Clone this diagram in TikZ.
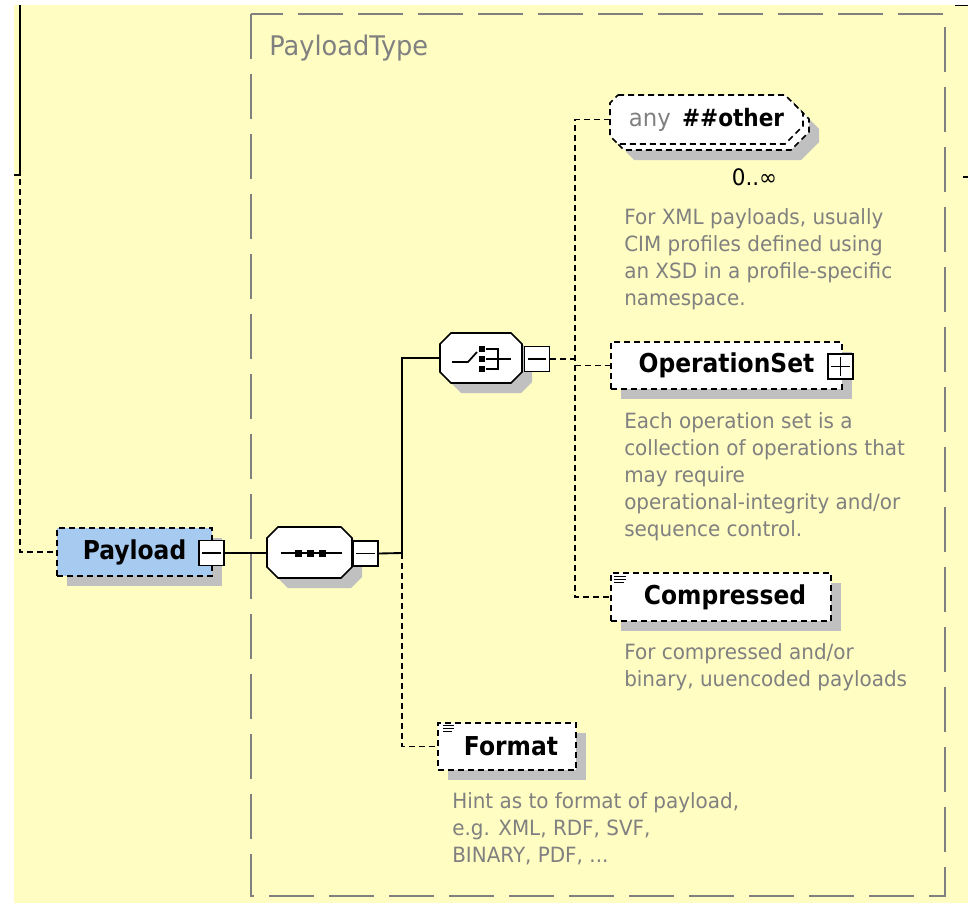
\documentclass[tikz,border=0pt]{standalone}
\usepackage{fontspec}
\setmainfont{DejaVu Sans}[FakeStretch=0.95]
\newfontfamily\headfam{DejaVu Sans}[FakeStretch=0.9]
\usetikzlibrary{calc}

\definecolor{bgyellow}{RGB}{255,253,194}
\definecolor{elemblue}{RGB}{166,202,240}
\definecolor{shgray}{RGB}{192,192,192}
\definecolor{txtgray}{RGB}{128,128,128}
\definecolor{framegray}{RGB}{128,128,128}

% octagon outline: options, centre x, centre y, half width, half height, left chamfer, right chamfer
\newcommand\xsoctagon[7]{%
  \path[#1] ({#2-#4+#6},{#3-#5}) -- ({#2+#4-#7},{#3-#5}) -- ({#2+#4},{#3-#5+#7})
    -- ({#2+#4},{#3+#5-#7}) -- ({#2+#4-#7},{#3+#5}) -- ({#2-#4+#6},{#3+#5})
    -- ({#2-#4},{#3+#5-#6}) -- ({#2-#4},{#3-#5+#6}) -- cycle;}

\tikzset{
  conn/.style={line width=1.4pt, black},
  optconn/.style={conn, dash pattern=on 4.5pt off 3pt},
  titlefont/.style={font=\headfam\bfseries\fontsize{19.5pt}{22pt}\selectfont},
  shadowbox/.style={fill=shgray},
  elembox/.style={rectangle, draw, line width=1.3pt, dash pattern=on 4.5pt off 3pt,
    fill=white, inner sep=0pt, titlefont},
  hold/.style={rectangle, inner sep=0pt},
  compline/.style={draw, line width=1.3pt, fill=white},
  optline/.style={draw, line width=1.3pt, dash pattern=on 4.5pt off 3pt, fill=white},
  pmbox/.style={rectangle, draw, line width=1.2pt, fill=white, minimum size=19pt, inner sep=0pt},
  minusbox/.style={pmbox, path picture={
    \draw[line width=1.2pt] ([xshift=2.5pt]path picture bounding box.west) -- ([xshift=-2.5pt]path picture bounding box.east);}},
  plusbox/.style={pmbox, path picture={
    \draw[line width=1.2pt] ([xshift=2.5pt]path picture bounding box.west) -- ([xshift=-2.5pt]path picture bounding box.east);
    \draw[line width=1.2pt] ([yshift=-2.5pt]path picture bounding box.north) -- ([yshift=2.5pt]path picture bounding box.south);}},
  desc/.style={anchor=north west, inner sep=0pt, align=left, text=txtgray,
    font=\fontsize{15.75pt}{20.25pt}\selectfont},
  framebox/.style={draw=framegray, line width=1.5pt, dash pattern=on 33.75pt off 11.25pt},
  symline/.style={line width=1.3pt, black},
  listicon/.style={line width=0.8pt, black}
}

\begin{document}
\begin{tikzpicture}[x=0.75pt, y=-0.75pt]
  % page and canvas
  \fill[white] (0,0) rectangle (968,903);
  \fill[bgyellow] (14,5) rectangle (968,903);
  \useasboundingbox (0,0) rectangle (968,903);

  % complex type frame
  \draw[framebox] (251,14) rectangle (945,896);
  \node[anchor=west, inner sep=0pt, text=txtgray, font=\fontsize{20.25pt}{24pt}\selectfont]
    (typename) at (269,48) {PayloadType};

  % element Payload
  \fill[shadowbox] (67,538) rectangle (222,586);
  \node[elembox, fill=elemblue, minimum width=116.25pt, minimum height=36pt] (payload) at (134.5,552) {Payload\hspace{9pt}};
  \node[minusbox] (plminus) at (211.5,553) {};

  % sequence compositor
  \xsoctagon{shadowbox}{319.5}{562.5}{42.5}{25.5}{11}{11}
  \xsoctagon{compline}{309.5}{552.5}{42.5}{25.5}{11}{11}
  \node[hold, minimum width=63.75pt, minimum height=38.25pt] (seq) at (309.5,552.5) {};
  \draw[symline] ($(seq)+(-29,0.5)$) -- ($(seq)+(32,0.5)$);
  \foreach \dx in {-11.5,0.5,12.5}
    \fill ($(seq)+(\dx-3.5,-3)$) rectangle ($(seq)+(\dx+3.5,4)$);
  \node[minusbox] (seqminus) at (365.5,553.5) {};

  % choice compositor
  \xsoctagon{shadowbox}{491}{368}{41}{25}{11}{11}
  \xsoctagon{compline}{481}{358}{41}{25}{11}{11}
  \node[hold, minimum width=61.5pt, minimum height=37.5pt] (choice) at (481,358) {};
  \draw[symline] ($(choice)+(-29,4)$) -- ($(choice)+(-13,4)$) -- ($(choice)+(-4,-6)$);
  \foreach \dy in {-9,1,11}
    \fill ($(choice)+(-2.5,\dy-3)$) rectangle ($(choice)+(3.5,\dy+3)$);
  \draw[symline] ($(choice)+(5,-9)$) -- ($(choice)+(17,-9)$) -- ($(choice)+(17,11)$) -- ($(choice)+(5,11)$);
  \draw[symline] ($(choice)+(5,1)$) -- ($(choice)+(30,1)$);
  \node[minusbox] (choiceminus) at (537,359) {};

  % any ##other (repeating wildcard: stacked copy behind)
  \xsoctagon{shadowbox}{722.5}{135.5}{96.5}{24.5}{8}{18}
  \xsoctagon{optline}{712.5}{125.5}{96.5}{24.5}{8}{18}
  \xsoctagon{optline}{706.5}{119.5}{96.5}{24.5}{8}{18}
  \node[hold, minimum width=144.75pt, minimum height=36.75pt,
    font=\fontsize{18pt}{20pt}\selectfont] (any) at (706.5,119.5)
    {{\color{txtgray}any}\hspace{3pt} {\headfam\bfseries \#\#other}};
  \node[inner sep=0pt, font=\fontsize{17pt}{19pt}\selectfont] (anyocc) at (754.5,177) {0..∞};
  \node[desc] (anydesc) at (624,208) {For XML payloads, usually\\CIM profiles defined using\\an XSD in a profile-specific\\namespace.};

  % element OperationSet
  \fill[shadowbox] (621,352) rectangle (852,399);
  \node[elembox, minimum width=173.25pt, minimum height=35.25pt] (opset) at (726.5,365.5) {OperationSet\hspace{5pt}};
  \node[plusbox] (opplus) at (840.5,366.5) {};
  \node[desc] (opdesc) at (624,412) {Each operation set is a\\collection of operations that\\may require\\operational-integrity and/or\\sequence control.};

  % element Compressed
  \fill[shadowbox] (621,583) rectangle (841,631);
  \node[elembox, minimum width=165pt, minimum height=36pt] (compressed) at (721,597) {\hspace{6pt}Compressed};
  \draw[listicon] ($(compressed.north west)+(4,4)$) -- ++(12,0)
                  ($(compressed.north west)+(4,7)$) -- ++(12,0)
                  ($(compressed.north west)+(4,10)$) -- ++(10,0);
  \node[desc] (compdesc) at (624,643) {For compressed and/or\\binary, uuencoded payloads};

  % element Format
  \fill[shadowbox] (448,733) rectangle (586,780);
  \node[elembox, minimum width=103.5pt, minimum height=35.25pt] (format) at (507,746.5) {\hspace{6pt}Format};
  \draw[listicon] ($(format.north west)+(6,3)$) -- ++(11,0)
                  ($(format.north west)+(6,6)$) -- ++(11,0)
                  ($(format.north west)+(6,9)$) -- ++(9,0);
  \node[desc] (fmtdesc) at (452,792) {Hint as to format of payload,\\e.g. XML, RDF, SVF,\\BINARY, PDF, ...};

  % connectors
  \coordinate (lefttop) at (20,5);
  \coordinate (leftknee) at (20,175);
  \coordinate (lefttick) at (14,175);
  \coordinate (leftdash) at (20,179);
  \draw[conn] (lefttop) -- (leftknee) -- (lefttick);
  \draw[optconn] (leftdash) |- (payload.west);

  \draw[conn] (plminus.east) -- (plminus.east -| seq.west);
  \coordinate (seqjoin) at (402,553);
  \draw[conn] (seqminus.east) -- (seqjoin) |- (choice.west);
  \draw[optconn] (seqjoin) |- (format.west);

  \coordinate (bustop) at (575,119.5);
  \coordinate (busbot) at (575,597);
  \draw[optconn] (choiceminus.east) -- (choiceminus.east -| bustop);
  \draw[optconn] (any.west) -- (bustop) -- (busbot) -- (compressed.west);
  \draw[optconn] (bustop |- opset.west) -- (opset.west);

  % neighbouring diagram edges at the right border
  \coordinate (edgeA) at (955,5.5);
  \coordinate (edgeB) at (968,5.5);
  \coordinate (edgeC) at (963,177);
  \coordinate (edgeD) at (968,177);
  \draw[conn] (edgeA) -- (edgeB);
  \draw[conn] (edgeC) -- (edgeD);
\end{tikzpicture}
\end{document}
